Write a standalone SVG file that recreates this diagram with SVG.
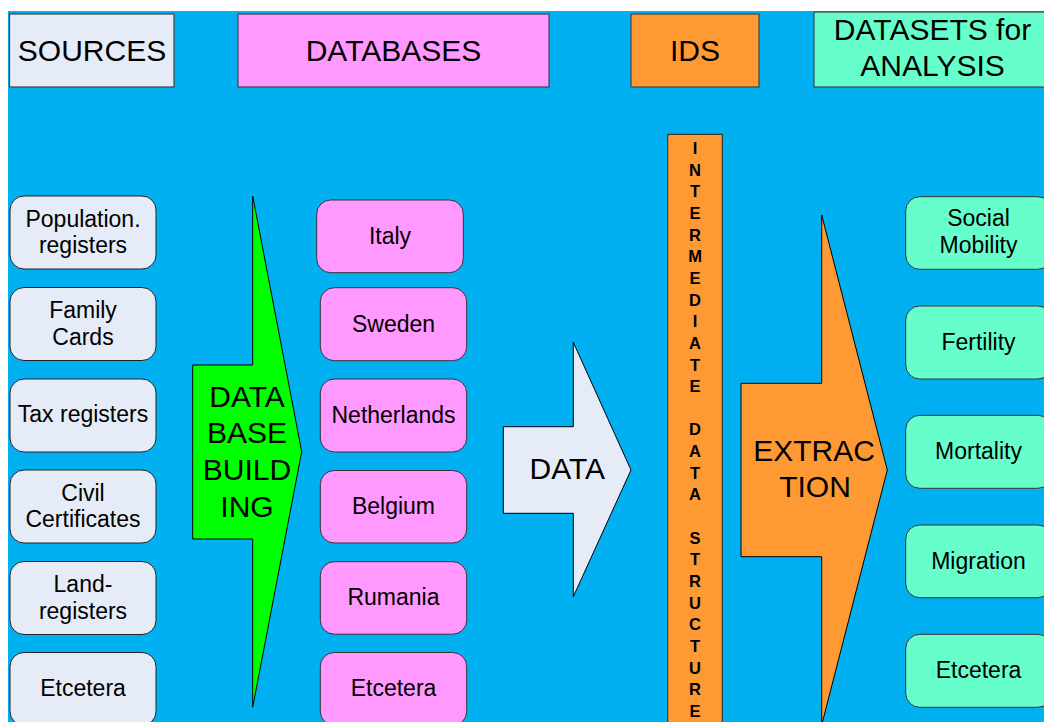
<svg xmlns="http://www.w3.org/2000/svg" width="1044" height="722" viewBox="0 0 1044 722">
<style>
text{font-family:"Liberation Sans",Arial,sans-serif;fill:#000;text-anchor:middle}
.hdr{font-size:30px}
.lbl{font-size:23px}
.big{font-size:30px}
.ids{font-size:16.5px;font-weight:bold}
.src{fill:#e6ecf7;stroke:#222;stroke-width:1}
.db{fill:#ff99ff;stroke:#333;stroke-width:1}
.ds{fill:#66ffcc;stroke:#333;stroke-width:1}
.hbox{stroke:#444;stroke-width:1.2}
.arr{stroke:#000;stroke-width:1}
</style>
<rect x="0" y="0" width="1044" height="722" fill="#ffffff"/>
<rect x="8" y="11" width="1036" height="711" fill="#00b0f0"/>

<g id="hdr-sources"><rect class="hbox" x="9.5" y="14" width="164.5" height="73" fill="#e6ecf7"/><text class="hdr" x="92" y="60.5">SOURCES</text></g>
<g id="hdr-databases"><rect class="hbox" x="238" y="14" width="311" height="73" fill="#ff99ff"/><text class="hdr" x="393.5" y="60.5">DATABASES</text></g>
<g id="hdr-ids"><rect class="hbox" x="631" y="14" width="128" height="73" fill="#ff9933"/><text class="hdr" x="695" y="60.5">IDS</text></g>
<g id="hdr-datasets"><rect class="hbox" x="814" y="12" width="236" height="75" fill="#66ffcc"/><text class="hdr" x="932.5" y="39.5">DATASETS for</text><text class="hdr" x="932.5" y="76">ANALYSIS</text></g>

<g id="src-population"><rect class="src" x="10" y="196" width="146" height="73" rx="14"/><text class="lbl" x="83" y="227">Population.</text><text class="lbl" x="83" y="253">registers</text></g>
<g id="src-family"><rect class="src" x="10" y="287.5" width="146" height="73" rx="14"/><text class="lbl" x="83" y="318">Family</text><text class="lbl" x="83" y="344.5">Cards</text></g>
<g id="src-tax"><rect class="src" x="10" y="379" width="146" height="73" rx="14"/><text class="lbl" x="83" y="422">Tax registers</text></g>
<g id="src-civil"><rect class="src" x="10" y="470" width="146" height="73" rx="14"/><text class="lbl" x="83" y="500.5">Civil</text><text class="lbl" x="83" y="527">Certificates</text></g>
<g id="src-land"><rect class="src" x="10" y="561.5" width="146" height="73" rx="14"/><text class="lbl" x="83" y="592">Land-</text><text class="lbl" x="83" y="618.5">registers</text></g>
<g id="src-etc"><rect class="src" x="10" y="652.5" width="146" height="73" rx="14"/><text class="lbl" x="83" y="696">Etcetera</text></g>

<g id="db-italy"><rect class="db" x="316.7" y="200" width="146.6" height="72.7" rx="14"/><text class="lbl" x="390" y="244">Italy</text></g>
<g id="db-sweden"><rect class="db" x="320.3" y="287.7" width="146.4" height="73" rx="14"/><text class="lbl" x="393.5" y="331.5">Sweden</text></g>
<g id="db-netherlands"><rect class="db" x="320.3" y="379" width="146.4" height="73" rx="14"/><text class="lbl" x="393.5" y="423">Netherlands</text></g>
<g id="db-belgium"><rect class="db" x="320.3" y="470.5" width="146.4" height="72.5" rx="14"/><text class="lbl" x="393.5" y="514">Belgium</text></g>
<g id="db-rumania"><rect class="db" x="320.3" y="561.7" width="146.4" height="72.5" rx="14"/><text class="lbl" x="393.5" y="605">Rumania</text></g>
<g id="db-etc"><rect class="db" x="320.3" y="652.5" width="146.4" height="73" rx="14"/><text class="lbl" x="393.5" y="696">Etcetera</text></g>

<g id="ids-bar"><rect x="667.7" y="134.3" width="54.6" height="600" fill="#ff9933" stroke="#222" stroke-width="1"/>
<text class="ids"><tspan x="695" y="154">I</tspan><tspan x="695" y="175.65">N</tspan><tspan x="695" y="197.3">T</tspan><tspan x="695" y="218.95">E</tspan><tspan x="695" y="240.6">R</tspan><tspan x="695" y="262.25">M</tspan><tspan x="695" y="283.9">E</tspan><tspan x="695" y="305.55">D</tspan><tspan x="695" y="327.2">I</tspan><tspan x="695" y="348.85">A</tspan><tspan x="695" y="370.5">T</tspan><tspan x="695" y="392.15">E</tspan><tspan x="695" y="435.45">D</tspan><tspan x="695" y="457.1">A</tspan><tspan x="695" y="478.75">T</tspan><tspan x="695" y="500.4">A</tspan><tspan x="695" y="543.7">S</tspan><tspan x="695" y="565.35">T</tspan><tspan x="695" y="587">R</tspan><tspan x="695" y="608.65">U</tspan><tspan x="695" y="630.3">C</tspan><tspan x="695" y="651.95">T</tspan><tspan x="695" y="673.6">U</tspan><tspan x="695" y="695.25">R</tspan><tspan x="695" y="716.9">E</tspan></text></g>

<g id="ds-social"><rect class="ds" x="905.7" y="196.7" width="146" height="72.6" rx="14"/><text class="lbl" x="978.5" y="226">Social</text><text class="lbl" x="978.5" y="253">Mobility</text></g>
<g id="ds-fertility"><rect class="ds" x="905.7" y="306" width="146" height="73" rx="14"/><text class="lbl" x="978.5" y="350">Fertility</text></g>
<g id="ds-mortality"><rect class="ds" x="905.7" y="415.3" width="146" height="73" rx="14"/><text class="lbl" x="978.5" y="459">Mortality</text></g>
<g id="ds-migration"><rect class="ds" x="905.7" y="525" width="146" height="72.7" rx="14"/><text class="lbl" x="978.5" y="569">Migration</text></g>
<g id="ds-etc"><rect class="ds" x="905.7" y="634.3" width="146" height="73" rx="14"/><text class="lbl" x="978.5" y="678">Etcetera</text></g>

<g id="connectors">
<g id="arrow-building"><polygon class="arr" fill="#00ff00" points="192.7,365 252.7,365 252.7,196 301.7,451.7 252.7,707.3 252.7,539 192.7,539"/>
<text class="big" x="247" y="406.7">DATA</text><text class="big" x="247" y="443">BASE</text><text class="big" x="247" y="479.5">BUILD</text><text class="big" x="247" y="516.7">ING</text></g>
<g id="arrow-data"><polygon class="arr" fill="#e6ecf7" points="503.3,426.7 573.3,426.7 573.3,342.3 631,470 573.3,596.7 573.3,513.3 503.3,513.3"/>
<text class="big" x="567.3" y="479">DATA</text></g>
<g id="arrow-extraction"><polygon class="arr" fill="#ff9933" points="741,383.3 821.7,383.3 821.7,215 887.3,470 821.7,725 821.7,556.7 741,556.7"/>
<text class="big" x="814" y="460.7">EXTRAC</text><text class="big" x="815" y="497.3">TION</text></g>
</g>
</svg>
